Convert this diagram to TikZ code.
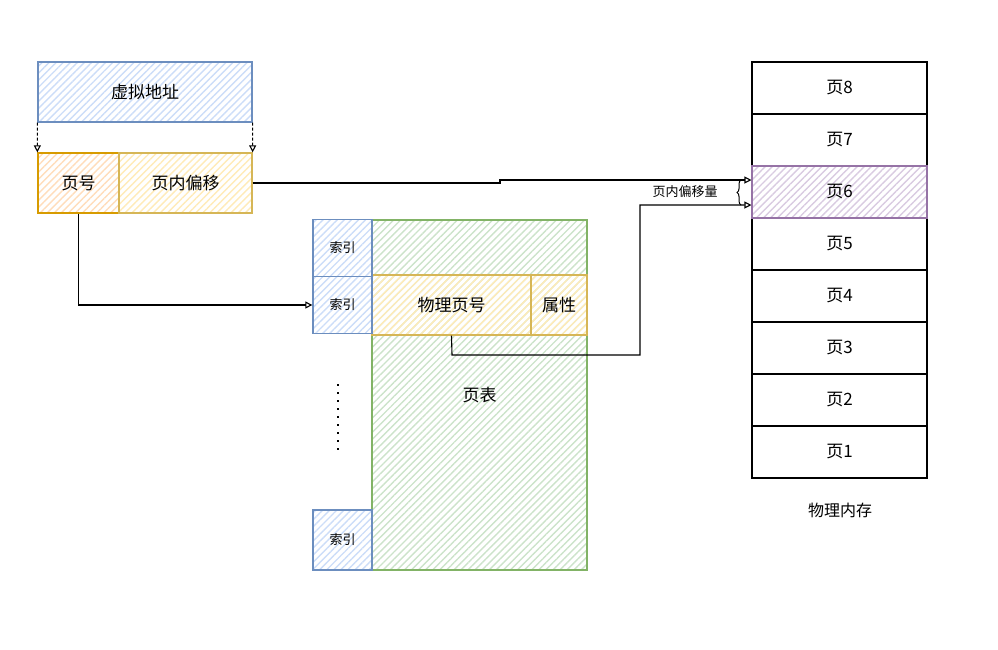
\documentclass[tikz,border=0pt]{standalone}
\usepackage{fontspec}
\setmainfont{Noto Sans CJK SC}
\usetikzlibrary{patterns.meta,arrows.meta,decorations.pathreplacing}
\definecolor{blueS}{HTML}{6C8EBF}
\definecolor{blueH}{HTML}{CCDDF8}
\definecolor{orangeS}{HTML}{D79B00}
\definecolor{orangeH}{HTML}{FFDDBB}
\definecolor{yellowS}{HTML}{D6B656}
\definecolor{yellowH}{HTML}{FFEBB8}
\definecolor{greenS}{HTML}{82B366}
\definecolor{greenH}{HTML}{CCE3CA}
\definecolor{purpleS}{HTML}{9673A6}
\definecolor{purpleH}{HTML}{D9CBE1}
\begin{document}
\begin{tikzpicture}[x=1pt,y=-1pt,
  box/.style={draw, line width=1.3pt, inner sep=0pt, font=\fontsize{17}{20}\selectfont},
  hatch/.style={pattern={Lines[angle=45,distance=5pt,line width=1.4pt]}, pattern color=#1},
  bluebox/.style={box, draw=blueS, hatch=blueH},
  idx/.style={bluebox, minimum width=59pt, minimum height=57pt, font=\fontsize{13}{15}\selectfont},
  page/.style={box, draw=black, line width=1.1pt, minimum width=175pt, minimum height=52pt},
  arr/.style={-{Triangle[open,length=7pt,width=7pt,line width=1.1pt]}, line width=1.1pt, black},
  darr/.style={arr, dash pattern=on 3pt off 2pt, line width=1pt}
]
\useasboundingbox (0,0) rectangle (998,649);

% virtual address
\node[bluebox, minimum width=214pt, minimum height=60pt] (va) at (145,92) {虚拟地址};
\node[box, draw=orangeS, hatch=orangeH, minimum width=81pt, minimum height=60pt] (pn) at (78.5,183) {页号};
\node[box, draw=yellowS, hatch=yellowH, minimum width=133pt, minimum height=60pt] (off) at (185.5,183) {页内偏移};
\draw[darr] (va.south west) -- (pn.north west);
\draw[darr] (va.south east) -- (off.north east);

% page table
\node[box, draw=greenS, hatch=greenH, minimum width=215pt, minimum height=350pt] (pt) at (479.5,395) {页表};
\node[box, draw=yellowS, hatch=yellowH, minimum width=159pt, minimum height=60pt] (ppn) at (451.5,305) {物理页号};
\node[box, draw=yellowS, hatch=yellowH, minimum width=56pt, minimum height=60pt] (attr) at (559,305) {属性};
\node[idx] (i1) at (342.5,248) {索引};
\node[idx] (i2) at (342.5,305) {索引};
\node[idx, minimum height=60pt] (i3) at (342.5,540) {索引};
\coordinate (d1) at (338,384);
\coordinate (d2) at (338,450);
\draw[line width=1.6pt, dash pattern=on 2pt off 6pt] (d1) -- (d2);

% physical memory
\foreach \n/\y in {8/88,7/140,5/244,4/296,3/348,2/400,1/452}{
  \node[page] (p\n) at (839.5,\y) {页\n};
}
\node[page, draw=purpleS, hatch=purpleH] (p6) at (839.5,192) {页6};
\node[font=\fontsize{16}{19}\selectfont] (mem) at (840,510) {物理内存};

% connectors
\draw[arr] (pn.south) -- (pn.south |- i2.west) -- (i2.west);
\draw[arr] (off.east) -- (500,183) -- (500,180) -- (p6.west |- 0,180);
\draw[arr] (ppn.south) -- (452,355) -- (640,355) -- (640,205) -- (p6.west |- 0,205);

% brace
\coordinate (bb) at (741,205);
\coordinate (bt) at (741,180);
\draw[line width=1pt, decorate, decoration={brace, amplitude=4pt}] (bb) -- (bt);
\node[font=\fontsize{13}{15}\selectfont] (offlbl) at (685,192) {页内偏移量};
\end{tikzpicture}
\end{document}
